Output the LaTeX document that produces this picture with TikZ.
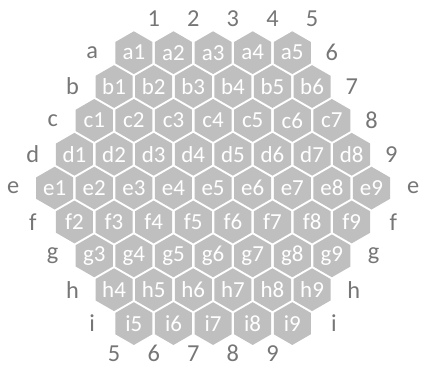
\documentclass[tikz,border=0pt]{standalone}
\usepackage{fontspec}
\setmainfont{Carlito}
\usepackage{xcolor}
\usetikzlibrary{shapes.geometric}
\definecolor{cellgray}{HTML}{BFBFBF}
\definecolor{labelgray}{HTML}{767676}

\begin{document}
\begin{tikzpicture}[
    cell/.style={regular polygon, regular polygon sides=6, shape border rotate=30,
      fill=cellgray, inner sep=0pt, minimum size=1.08cm, text=white,
      font=\fontsize{16.5}{16.5}\selectfont},
    edgelabel/.style={text=labelgray, inner sep=0pt, font=\fontsize{17.5}{17.5}\selectfont}]
    \useasboundingbox (-5.38,-4.50) rectangle (5.30,4.75);
    % board cells
    \foreach \r/\row in {1/a,2/b,3/c,4/d,5/e,6/f,7/g,8/h,9/i} {
        \pgfmathtruncatemacro\cfirst{max(1,\r-4)}
        \pgfmathtruncatemacro\clast{min(9,\r+4)}
        \foreach \c in {\cfirst,...,\clast}
            \node[cell] (\row\c) at ({\c-5-(\r-5)*0.5},{-(\r-5)*0.855}) {\row\c};
    }
    % column numbers
    \foreach \c in {1,...,5}
        \node[edgelabel] (top\c) at ({\c-2.5},{4.27}) {\c};
    \foreach \r in {1,...,4}
        \pgfmathtruncatemacro\c{\r+5}
        \node[edgelabel] (right\c) at ({0.5*\r+2.5},{-(\r-5)*0.855}) {\c};
    \foreach \c in {5,...,9}
        \node[edgelabel] (bottom\c) at ({\c-7.5},{-4.18}) {\c};
    % row letters
    \foreach \r/\row in {1/a,2/b,3/c,4/d,5/e}
        \node[edgelabel] (left\row) at ({-5-(\r-5)*0.5-0.05},{-(\r-5)*0.855}) {\row};
    \foreach \r/\row in {6/f,7/g,8/h,9/i}
        \node[edgelabel] (left\row) at ({0.5*\r-7.5-0.05},{-(\r-5)*0.855}) {\row};
    \foreach \r/\row in {5/e,6/f,7/g,8/h,9/i}
        \node[edgelabel] (right\row) at ({5-(\r-5)*0.5+0.05},{-(\r-5)*0.855}) {\row};
\end{tikzpicture}
\end{document}
